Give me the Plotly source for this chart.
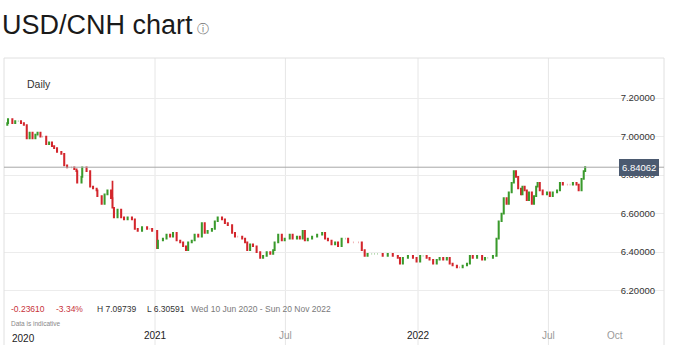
import plotly.graph_objects as go

# ---- data ----
dates = [
    "2020-06-10","2020-06-11","2020-06-17","2020-06-21","2020-06-25","2020-06-29","2020-07-03","2020-07-07",
    "2020-07-11","2020-07-15","2020-07-19","2020-07-22","2020-07-26","2020-07-29","2020-08-03","2020-08-07",
    "2020-08-11","2020-08-14","2020-08-18","2020-08-24","2020-08-28","2020-09-01","2020-09-07","2020-09-11",
    "2020-09-14","2020-09-15","2020-09-21","2020-09-22","2020-09-28","2020-10-03","2020-10-07","2020-10-12",
    "2020-10-13","2020-10-19","2020-10-23","2020-10-27","2020-11-01","2020-11-03","2020-11-05","2020-11-10",
    "2020-11-15","2020-11-19","2020-11-24","2020-11-30","2020-12-04","2020-12-08","2020-12-14","2020-12-21",
    "2020-12-25","2020-12-28","2021-01-04","2021-01-05","2021-01-12","2021-01-17","2021-01-22","2021-01-26",
    "2021-01-31","2021-02-05","2021-02-09","2021-02-13","2021-02-16","2021-02-21","2021-02-25","2021-03-02",
    "2021-03-07","2021-03-11","2021-03-15","2021-03-21","2021-03-25","2021-03-29","2021-04-04","2021-04-08",
    "2021-04-12","2021-04-18","2021-04-22","2021-04-26","2021-05-02","2021-05-06","2021-05-09","2021-05-13",
    "2021-05-17","2021-05-22","2021-05-27","2021-05-31","2021-06-05","2021-06-10","2021-06-14","2021-06-16",
    "2021-06-21","2021-06-26","2021-06-30","2021-07-07","2021-07-11","2021-07-17","2021-07-21","2021-07-25",
    "2021-07-28","2021-08-01","2021-08-07","2021-08-14","2021-08-21","2021-08-25","2021-08-29","2021-09-03",
    "2021-09-08","2021-09-12","2021-09-17","2021-09-22","2021-09-26","2021-10-03","2021-10-10","2021-10-15",
    "2021-10-19","2021-10-23","2021-10-29","2021-11-02","2021-11-06","2021-11-13","2021-11-20","2021-11-27",
    "2021-12-04","2021-12-07","2021-12-11","2021-12-18","2021-12-25","2021-12-30","2022-01-04","2022-01-08",
    "2022-01-13","2022-01-17","2022-01-22","2022-01-27","2022-01-31","2022-02-05","2022-02-10","2022-02-14",
    "2022-02-18","2022-02-24","2022-02-28","2022-03-04","2022-03-10","2022-03-14","2022-03-18","2022-03-24",
    "2022-03-31","2022-04-04","2022-04-08","2022-04-15","2022-04-19","2022-04-20","2022-04-23","2022-04-27",
    "2022-04-30","2022-05-04","2022-05-07","2022-05-11","2022-05-14","2022-05-17","2022-05-20","2022-05-24",
    "2022-05-26","2022-05-29","2022-06-01","2022-06-04","2022-06-08","2022-06-11","2022-06-14","2022-06-16",
    "2022-06-19","2022-06-23","2022-06-29","2022-07-03","2022-07-07","2022-07-13","2022-07-17","2022-07-21",
    "2022-07-27","2022-07-31","2022-08-04","2022-08-09","2022-08-12","2022-08-16","2022-08-19","2022-08-21",
]
closes = [
    7.07, 7.09, 7.07, 7.08, 7.08, 7.07, 7.06, 6.99,
    7.02, 6.99, 7.01, 7.02, 7.00, 7.00, 6.96, 6.97,
    6.95, 6.94, 6.92, 6.91, 6.85, 6.84, 6.84, 6.83,
    6.82, 6.76, 6.79, 6.84, 6.82, 6.74, 6.73, 6.72,
    6.69, 6.65, 6.70, 6.72, 6.68, 6.63, 6.58, 6.62,
    6.58, 6.57, 6.58, 6.57, 6.52, 6.51, 6.53, 6.52,
    6.52, 6.51, 6.42, 6.46, 6.47, 6.49, 6.48, 6.50,
    6.46, 6.45, 6.43, 6.41, 6.45, 6.46, 6.49, 6.48,
    6.55, 6.50, 6.51, 6.52, 6.56, 6.58, 6.57, 6.55,
    6.54, 6.50, 6.48, 6.48, 6.47, 6.45, 6.41, 6.44,
    6.43, 6.40, 6.37, 6.38, 6.40, 6.39, 6.41, 6.45,
    6.49, 6.46, 6.47, 6.49, 6.47, 6.48, 6.47, 6.51,
    6.46, 6.47, 6.48, 6.49, 6.50, 6.47, 6.46, 6.44,
    6.45, 6.43, 6.47, 6.47, 6.45, 6.45, 6.45, 6.41,
    6.38, 6.39, 6.39, 6.39, 6.39, 6.38, 6.39, 6.38,
    6.37, 6.34, 6.37, 6.38, 6.37, 6.35, 6.38, 6.38,
    6.37, 6.36, 6.34, 6.36, 6.37, 6.36, 6.37, 6.34,
    6.33, 6.32, 6.32, 6.33, 6.34, 6.38, 6.37, 6.38,
    6.36, 6.37, 6.37, 6.38, 6.38, 6.47, 6.56, 6.60,
    6.68, 6.65, 6.71, 6.76, 6.82, 6.79, 6.73, 6.70,
    6.74, 6.72, 6.67, 6.71, 6.65, 6.69, 6.74, 6.76,
    6.72, 6.70, 6.71, 6.69, 6.71, 6.72, 6.76, 6.75,
    6.75, 6.75, 6.76, 6.75, 6.72, 6.78, 6.82, 6.84062,
]
first_open = 7.06
spike_highs = {"2020-11-03": 6.77}

tick_dates = ["2021-01-01", "2021-07-01", "2022-01-01", "2022-07-01", "2022-10-01"]
tick_labels = ["2021", "Jul", "2022", "Jul", "Oct"]
tick_is_year = [True, False, True, False, False]
tick_has_grid = [True, True, True, True, False]
first_label = "2020"

y_ticks = [6.2, 6.4, 6.6, 6.8, 7.0, 7.2]
x_range = ["2020-06-05 10:00", "2022-12-08 10:00"]
y_range = [5.917, 7.408]

title = "USD/CNH chart"
change_abs = "-0.23610"
change_pct = "-3.34%"
high_txt = "H 7.09739"
low_txt = "L 6.30591"
period_txt = "Wed 10 Jun 2020 - Sun 20 Nov 2022"
note_txt = "Data is indicative"
interval_txt = "Daily"

# ---- build OHLC ----
opens = [first_open] + closes[:-1]
highs = [max(o, c) for o, c in zip(opens, closes)]
lows = [min(o, c) for o, c in zip(opens, closes)]
for i, d in enumerate(dates):
    if d in spike_highs:
        highs[i] = spike_highs[d]

GREEN = "#3a9a2c"
RED = "#d3262c"
FONT = "Liberation Sans, Arial, sans-serif"

fig = go.Figure(go.Candlestick(
    x=dates, open=opens, high=highs, low=lows, close=closes,
    increasing=dict(line=dict(color=GREEN, width=1.7), fillcolor=GREEN),
    decreasing=dict(line=dict(color=RED, width=1.7), fillcolor=RED),
    whiskerwidth=0, hoverinfo="skip", showlegend=False,
))

W, H = 679, 345
L, R, T, B = 4, 15, 58, 0

ticktext = [
    (f"<span style='color:#222'>{t}</span>" if y else f"<span style='color:#9a9a9a'>{t}</span>")
    for t, y in zip(tick_labels, tick_is_year)
]

fig.update_layout(
    width=W, height=H,
    margin=dict(l=L, r=R, t=T, b=B, pad=0),
    paper_bgcolor="white", plot_bgcolor="white",
    font=dict(family=FONT, color="#333"),
    xaxis=dict(
        type="date", range=x_range, rangeslider=dict(visible=False),
        tickvals=tick_dates, ticktext=ticktext,
        showgrid=False, zeroline=False, showline=False,
        ticks="", ticklabelposition="inside", ticklabelstandoff=1,
        tickfont=dict(size=10, family=FONT),
        fixedrange=True,
    ),
    yaxis=dict(
        range=y_range, side="right",
        tickvals=y_ticks, ticktext=[f"{v:.5f}" for v in y_ticks],
        showgrid=True, gridcolor="#ececec", gridwidth=1,
        zeroline=False, showline=False, ticks="",
        ticklabelposition="inside", ticklabelstandoff=6,
        tickfont=dict(size=9.5, family=FONT, color="#333"),
        fixedrange=True,
    ),
)

shapes = []
for d, g in zip(tick_dates, tick_has_grid):
    if g:
        shapes.append(dict(type="line", xref="x", yref="paper", x0=d, x1=d, y0=0, y1=1,
                           line=dict(color="#e6e6e6", width=1), layer="below"))
# frame lines
shapes.append(dict(type="line", xref="paper", yref="paper", x0=0, x1=0, y0=0, y1=1,
                   line=dict(color="#e0e0e0", width=1)))
shapes.append(dict(type="line", xref="paper", yref="paper", x0=1, x1=1, y0=0, y1=1,
                   line=dict(color="#e0e0e0", width=1)))
shapes.append(dict(type="line", xref="paper", yref="paper", x0=0, x1=1, y0=1, y1=1,
                   line=dict(color="#e0e0e0", width=1)))
# last price line
shapes.append(dict(type="line", xref="paper", yref="y", x0=0, x1=1, y0=closes[-1], y1=closes[-1],
                   line=dict(color="#a8a8a8", width=1)))
fig.update_layout(shapes=shapes)

anns = [
    dict(text=title, xref="paper", yref="paper", x=-L / (W - L - R), y=1 + (T - 25) / (H - T - B),
         xanchor="left", yanchor="middle", showarrow=False,
         font=dict(size=27, color="#1a1a1a", family=FONT)),
    dict(text="ⓘ", xref="paper", yref="paper", x=(203 - L) / (W - L - R), y=1 + (T - 29) / (H - T - B),
         xanchor="center", yanchor="middle", showarrow=False,
         font=dict(size=12, color="#777", family="DejaVu Sans")),
    dict(text=interval_txt, xref="paper", yref="paper", x=(25 - L) / (W - L - R), y=1 - (84 - T) / (H - T - B),
         xanchor="left", yanchor="middle", showarrow=False,
         font=dict(size=10.5, color="#333", family=FONT)),
    dict(text=first_label, xref="paper", yref="paper", x=(10 - L) / (W - L - R), y=1 - (338 - T) / (H - T - B),
         xanchor="left", yanchor="middle", showarrow=False,
         font=dict(size=10, color="#222", family=FONT)),
    dict(text=f"{closes[-1]:.5f}", xref="paper", yref="y", x=(638.5 - L) / (W - L - R), y=closes[-1],
         xanchor="center", yanchor="middle", showarrow=False,
         bgcolor="#4b5a70", bordercolor="#4b5a70", borderpad=2,
         font=dict(size=9.5, color="white", family=FONT)),
]
stats = [
    (change_abs, 9, "#c8323a"),
    (change_pct, 54, "#c8323a"),
    (high_txt, 95, "#333"),
    (low_txt, 145, "#333"),
    (period_txt, 189, "#7a7a7a"),
]
for txt, px, col in stats:
    anns.append(dict(text=txt, xref="paper", yref="paper", x=(px - L) / (W - L - R),
                     y=1 - (309 - T) / (H - T - B), xanchor="left", yanchor="middle",
                     showarrow=False, font=dict(size=8.5, color=col, family=FONT)))
anns.append(dict(text=note_txt, xref="paper", yref="paper", x=(9 - L) / (W - L - R),
                 y=1 - (323 - T) / (H - T - B), xanchor="left", yanchor="middle",
                 showarrow=False, font=dict(size=6.5, color="#888", family=FONT)))
fig.update_layout(annotations=anns)

fig.write_html("out.html", config=dict(displayModeBar=False, staticPlot=True))
